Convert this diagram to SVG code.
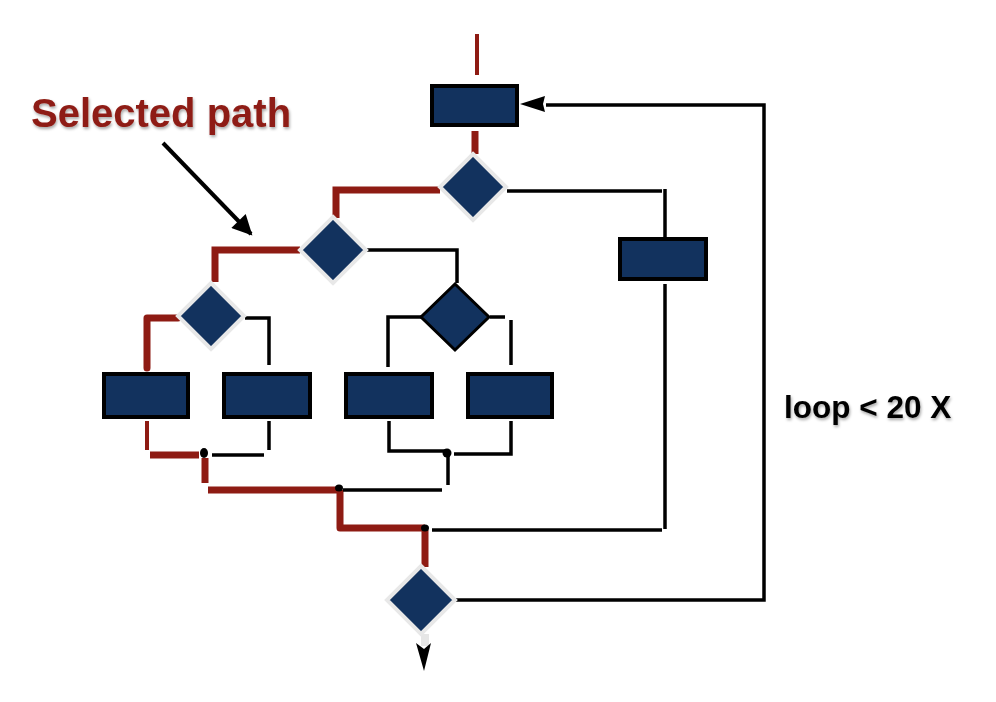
<svg xmlns="http://www.w3.org/2000/svg" width="996" height="702" viewBox="0 0 996 702">
<defs>
<style>
.box{fill:#12325e;stroke:#000;stroke-width:4}
.dia{fill:#12325e;stroke:#e8e8e8;stroke-width:4}
.diab{fill:#12325e;stroke:#000;stroke-width:3}
.red{fill:none;stroke:#8e1b13;stroke-width:7}
.redt{fill:none;stroke:#8e1b13;stroke-width:4}
.blk{fill:none;stroke:#000;stroke-width:3.5}
.dot{fill:#000}
.lbl{font-family:"Liberation Sans",Arial,sans-serif;font-weight:bold}
</style>
<filter id="sh" x="-10%" y="-30%" width="120%" height="160%">
<feDropShadow dx="1" dy="2" stdDeviation="1.5" flood-color="#000" flood-opacity="0.35"/>
</filter>
<marker id="ah" viewBox="0 0 10 10" refX="9" refY="5" markerWidth="5.5" markerHeight="5" orient="auto" markerUnits="strokeWidth">
<path d="M0,0 L10,5 L0,10 Z" fill="#000"/>
</marker>
</defs>
<rect width="996" height="702" fill="#fff"/>

<g id="connectors">
<path class="redt" d="M477,34 V75"/>
<path class="red" d="M475,131 V154"/>
<path class="red" d="M440,190 H336 V218"/>
<path class="red" d="M300,250 H215 V282"/>
<path class="red" d="M178,318 H147 V368" stroke-linejoin="round" stroke-linecap="round"/>
<path class="redt" d="M147,421 V450"/>
<path class="red" d="M150,455 H199" stroke-width="8"/>
<path class="red" d="M205,458 V483"/>
<path class="red" d="M208,490 H337" stroke-width="8"/>
<path class="red" d="M340,490 V528 H425" stroke-linejoin="round"/>
<path class="red" d="M425,530 V567"/>
<path class="blk" d="M507,191 H662"/>
<path class="blk" d="M665,189 V237"/>
<path class="blk" d="M665,284 V529"/>
<path class="blk" d="M432,530 H662"/>
<path class="blk" d="M366,250 H457 V283"/>
<path class="blk" d="M421,317 H388 V367"/>
<path class="blk" d="M490,317 H505"/>
<path class="blk" d="M511,320 V365"/>
<path class="blk" d="M245,318 H269 V365"/>
<path class="blk" d="M269,421 V450"/>
<path class="blk" d="M212,455 H264"/>
<path class="blk" d="M389,421 V451 H447"/>
<path class="blk" d="M448,453 V485"/>
<path class="blk" d="M454,454 H511 V421"/>
<path class="blk" d="M343,490 H442"/>
<path class="blk" d="M456,600 H764 V105 H546"/>
<polygon points="520,104 545,96 543,104 545,112" fill="#000"/>
<ellipse class="dot" cx="204" cy="453" rx="4" ry="5"/>
<ellipse class="dot" cx="339" cy="488" rx="4" ry="3.5"/>
<ellipse class="dot" cx="447" cy="453" rx="4.5" ry="4.5"/>
<ellipse class="dot" cx="425" cy="528" rx="4" ry="3.5"/>
<rect x="421" y="634" width="8" height="12" fill="#e6e6e6"/>
<polygon points="416,643 424,649 431,643 424,671" fill="#000"/>
<line x1="163" y1="143" x2="251" y2="234" stroke="#000" stroke-width="4" marker-end="url(#ah)"/>
</g>

<g id="n_top"><rect class="box" x="432" y="86" width="85" height="39"/></g>
<g id="n_d1"><polygon class="dia" points="473,154 506,187 473,220 440,187"/></g>
<g id="n_right"><rect class="box" x="620" y="239" width="86" height="40"/></g>
<g id="n_d2"><polygon class="dia" points="333,217 366,250 333,283 300,250"/></g>
<g id="n_d3"><polygon class="dia" points="211,283 244,316 211,349 178,316"/></g>
<g id="n_d4"><polygon class="diab" points="455,284 489,317 455,350 421,317"/></g>
<g id="n_a"><rect class="box" x="104" y="374" width="84" height="43"/></g>
<g id="n_b"><rect class="box" x="224" y="374" width="86" height="43"/></g>
<g id="n_c"><rect class="box" x="346" y="374" width="86" height="43"/></g>
<g id="n_d"><rect class="box" x="468" y="374" width="84" height="43"/></g>
<g id="n_d5"><polygon class="dia" points="421,566 455,600 421,634 387,600"/></g>

<g id="labels">
<text class="lbl" x="31" y="127" font-size="40" fill="#8e1b13" filter="url(#sh)">Selected path</text>
<text class="lbl" x="784" y="418" font-size="31.5" fill="#000" filter="url(#sh)">loop &lt; 20 X</text>
</g>
</svg>
